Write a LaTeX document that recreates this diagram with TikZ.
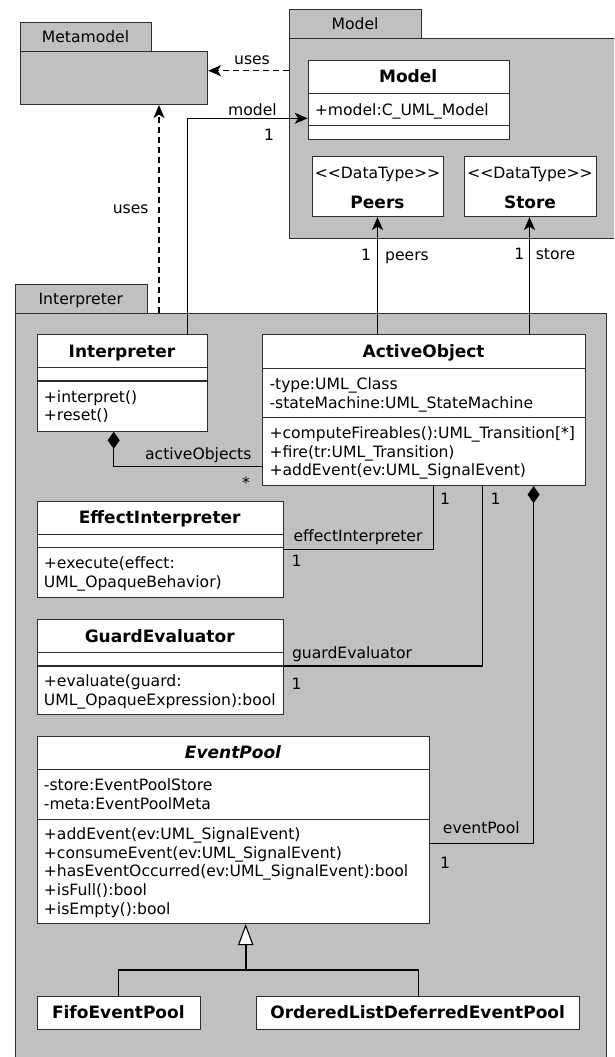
\documentclass[tikz,border=0pt]{standalone}
\usepackage{fontspec}
\setmainfont{DejaVu Sans}
\usetikzlibrary{arrows.meta}
\definecolor{pkgfill}{HTML}{C0C0C0}
\definecolor{edgecol}{HTML}{2E2E2E}

% horizontal compartment separator inside a class box, #2 pt below its top
\newcommand\compsep[2]{\draw[boxline] ([yshift=-#2pt]#1.north west) -- ([yshift=-#2pt]#1.north east);}
% one member line per list item, first baseline at #3, 18.7 apart
\newcommand\members[4]{\foreach \t [count=\i] in {#4} {\node[member] (#1-\i) at (#2, {#3+(\i-1)*18.7}) {\t};}}

\begin{document}
\begin{tikzpicture}[x=1pt,y=-1pt,
  every node/.style={font=\fontsize{15.6}{18.7}\selectfont, inner sep=0pt},
  boxline/.style={draw=edgecol, line width=1.1pt},
  pkg/.style={boxline, fill=pkgfill, anchor=north west, inner sep=0pt},
  cls/.style={boxline, fill=white, anchor=north west, inner sep=0pt},
  cname/.style={font=\fontsize{17}{20}\selectfont\bfseries, anchor=base},
  member/.style={anchor=base west},
  lbl/.style={anchor=base},
  conn/.style={draw=black, line width=1.1pt},
  dep/.style={conn, dash pattern=on 6pt off 4pt, -{Stealth[length=13pt,width=11pt,inset=3.5pt]}},
  nav/.style={conn, -{Stealth[length=13pt,width=11pt,inset=3.5pt]}},
  comp/.style={conn, {Diamond[length=17pt,width=12pt]}-},
  gen/.style={conn, line width=1.8pt, {Triangle[open,fill=white,length=21pt,width=15.4pt,line width=1.1pt]}-},
]
\useasboundingbox (0,0) rectangle (614,1057);
\clip (0,0) rectangle (614,1057);

% ---------- packages ----------
\node[pkg, minimum width=131pt, minimum height=29pt] (mmTab) at (20,21.7) {};
\node[pkg, minimum width=187pt, minimum height=53.3pt] (mmBody) at (20,50.7) {};
\node[lbl] (mmName) at (85.5,42.3) {Metamodel};

\node[pkg, minimum width=131.4pt, minimum height=28.7pt] (mdTab) at (289.3,9) {};
\node[pkg, minimum width=350pt, minimum height=200.6pt] (mdBody) at (289.3,37.7) {};
\node[lbl] (mdName) at (355,29.3) {Model};

\node[pkg, minimum width=131.7pt, minimum height=29pt] (ipTab) at (15,284.3) {};
\node[pkg, minimum width=590.7pt, minimum height=760pt] (ipBody) at (15,313.3) {};
\node[lbl] (ipName) at (80.8,304.8) {Interpreter};

% ---------- Model package content ----------
\node[cls, minimum width=201pt, minimum height=78.7pt] (model) at (307.7,60) {};
\compsep{model}{33.3}
\compsep{model}{65.3}
\node[cname] (model-name) at (408.2,82.9) {Model};
\members{model-a}{314.7}{115}{{+model:C\_UML\_Model}}

\node[cls, minimum width=131.6pt, minimum height=60pt] (peers) at (311.7,156) {};
\node[lbl] (peers-st) at (377.5,178) {<{}<DataType>{}>};
\node[cname] (peers-name) at (377.5,208.3) {Peers};

\node[cls, minimum width=132pt, minimum height=60pt] (store) at (464,156) {};
\node[lbl] (store-st) at (530,178) {<{}<DataType>{}>};
\node[cname] (store-name) at (530,208.3) {Store};

% ---------- Interpreter package content ----------
\node[cls, minimum width=170.6pt, minimum height=96.4pt] (intp) at (36.7,334.3) {};
\compsep{intp}{33.4}
\compsep{intp}{46.7}
\node[cname] (intp-name) at (122,357.2) {Interpreter};
\members{intp-m}{43.7}{402.2}{{+interpret()},{+reset()}}

\node[cls, minimum width=322.7pt, minimum height=150.7pt] (ao) at (262.3,334.3) {};
\compsep{ao}{34}
\compsep{ao}{83.4}
\node[cname] (ao-name) at (423.6,357.5) {ActiveObject};
\members{ao-a}{269.3}{389.3}{{-type:UML\_Class},{-stateMachine:UML\_StateMachine}}
\members{ao-m}{269.3}{438.3}{{+computeFireables():UML\_Transition[*]},{+fire(tr:UML\_Transition)},{+addEvent(ev:UML\_SignalEvent)}}

\node[cls, minimum width=246pt, minimum height=96.3pt] (ei) at (36.7,501) {};
\compsep{ei}{33.3}
\compsep{ei}{46.7}
\node[cname] (ei-name) at (159.7,523.9) {EffectInterpreter};
\members{ei-m}{43.7}{568.9}{{+execute(effect:},{UML\_OpaqueBehavior)}}

\node[cls, minimum width=246pt, minimum height=94.7pt] (ge) at (36.7,619.3) {};
\compsep{ge}{33.4}
\compsep{ge}{46.7}
\node[cname] (ge-name) at (159.7,642.2) {GuardEvaluator};
\members{ge-m}{43.7}{686.4}{{+evaluate(guard:},{UML\_OpaqueExpression):bool}}

\node[cls, minimum width=392.6pt, minimum height=187pt] (ep) at (36.7,736) {};
\compsep{ep}{33.3}
\compsep{ep}{83.3}
\node[cname] (ep-name) at (233,758.9) {\itshape EventPool};
\members{ep-a}{43.7}{790.7}{{-store:EventPoolStore},{-meta:EventPoolMeta}}
\members{ep-m}{43.7}{839.5}{{+addEvent(ev:UML\_SignalEvent)},{+consumeEvent(ev:UML\_SignalEvent)},{+hasEventOccurred(ev:UML\_SignalEvent):bool},{+isFull():bool},{+isEmpty():bool}}

\node[cls, minimum width=163.3pt, minimum height=33pt] (fifo) at (36.7,996) {};
\node[cname] (fifo-name) at (118.35,1018.7) {FifoEventPool};

\node[cls, minimum width=323.3pt, minimum height=33pt] (oldep) at (256,996) {};
\node[cname] (oldep-name) at (417.65,1018.7) {OrderedListDeferredEventPool};

% ---------- connectors ----------
\draw[dep] (mdBody.west |- 0,70.7) -- (mmBody.east |- 0,70.7);
\draw[dep] (ipBody.north -| 159,0) -- (mmBody.south -| 159,0);
\draw[nav] (intp.north -| 187.7,0) |- (model.west |- 0,118.3);
\draw[nav] (ao.north -| 377.5,0) -- (peers.south -| 377.5,0);
\draw[nav] (ao.north -| 529.5,0) -- (store.south -| 529.5,0);
\draw[comp] (intp.south -| 113.7,0) |- (ao.west |- 0,466.7);
\draw[conn] (ao.south -| 433.6,0) |- (ei.east |- 0,549.3);
\draw[conn] (ao.south -| 482.7,0) |- (ge.east |- 0,666);
\draw[comp] (ao.south -| 533.6,0) |- (ep.east |- 0,843.3);
\coordinate (genJoin) at (245.7,970);
\draw[gen] (ep.south -| genJoin) -- (genJoin);
\draw[conn] (fifo.north) |- (genJoin) -| (oldep.north);

% ---------- connector labels ----------
\node[lbl] (usesTop) at (252,65) {uses};
\node[lbl] (modelRole) at (252.5,115) {model};
\node[lbl] (modelMult) at (269,140) {1};
\node[lbl] (usesLeft) at (130.7,213.8) {uses};
\node[lbl] (peersMult) at (366,260) {1};
\node[lbl] (peersRole) at (407,260) {peers};
\node[lbl] (storeMult) at (519.3,259.5) {1};
\node[lbl] (storeRole) at (555.5,259.5) {store};
\node[lbl] (aoRole) at (198.3,459.3) {activeObjects};
\node[lbl] (aoMult) at (246,488.5) {*};
\node[lbl] (eiSrcMult) at (445,504) {1};
\node[lbl] (geSrcMult) at (495.7,504) {1};
\node[lbl] (eiRole) at (358,541) {effectInterpreter};
\node[lbl] (eiMult) at (296.7,566.7) {1};
\node[lbl] (geRole) at (352,658.3) {guardEvaluator};
\node[lbl] (geMult) at (296.7,689) {1};
\node[lbl] (epRole) at (481.3,833.3) {eventPool};
\node[lbl] (epMult) at (445,868.3) {1};
\end{tikzpicture}
\end{document}
